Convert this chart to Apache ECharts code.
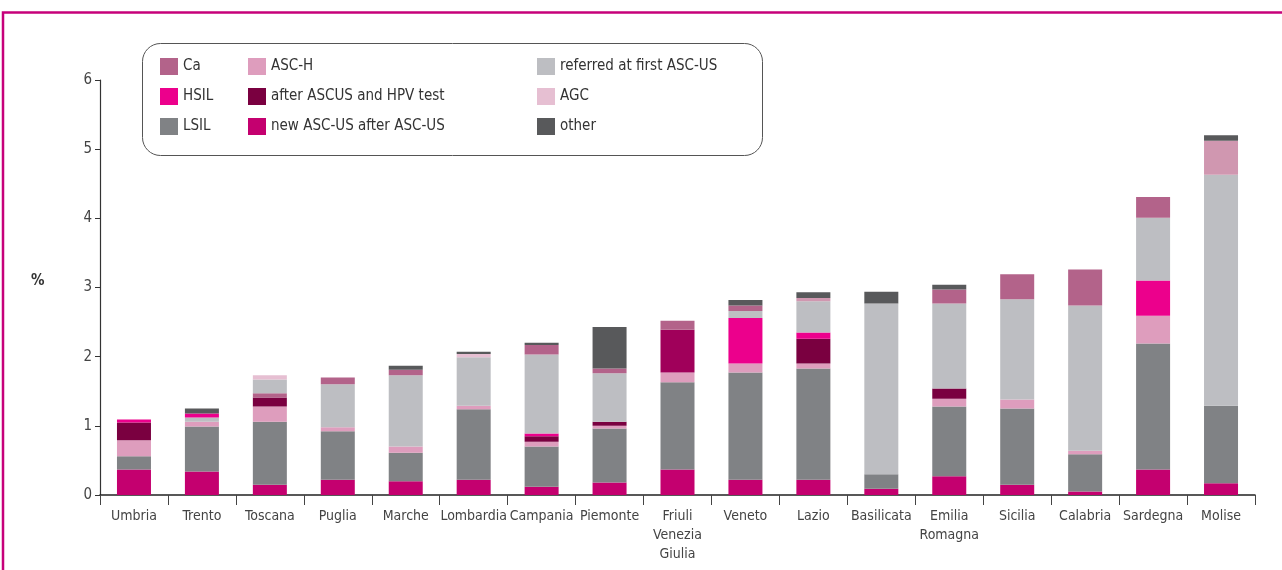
<!DOCTYPE html>
<html>
<head>
<meta charset="utf-8">
<title>ASC-US outcomes by region</title>
<script src="https://cdn.jsdelivr.net/npm/echarts@6/dist/echarts.min.js"></script>
<style>
  html, body { margin: 0; padding: 0; background: #fff; }
  #chart { width: 1282px; height: 570px; }
</style>
</head>
<body>
<div id="chart"></div>
<script>
// regions, left to right
var regions = ['Umbria', 'Trento', 'Toscana', 'Puglia', 'Marche', 'Lombardia', 'Campania', 'Piemonte',
  'Friuli\nVenezia\nGiulia', 'Veneto', 'Lazio', 'Basilicata', 'Emilia\nRomagna', 'Sicilia', 'Calabria', 'Sardegna', 'Molise'];

// % values per outcome (bottom of the stack first)
var newAscus   = [0.37, 0.34, 0.15, 0.22, 0.20, 0.22, 0.12, 0.18, 0.37, 0.22, 0.22, 0.09, 0.27, 0.15, 0.05, 0.37, 0.17];
var lsil       = [0.19, 0.65, 0.91, 0.70, 0.41, 1.02, 0.58, 0.78, 1.26, 1.55, 1.61, 0.21, 1.01, 1.10, 0.54, 1.82, 1.12];
var ascH       = [0.23, 0.07, 0.22, 0.06, 0.09, 0.05, 0.07, 0.04, 0.14, 0.13, 0.07, 0, 0.11, 0.13, 0.05, 0.40, 0];
var afterHpv   = [0.26, 0, 0.13, 0, 0, 0, 0.08, 0.06, 0, 0, 0.36, 0, 0.15, 0, 0, 0, 0];
var afterHpv2  = [0, 0, 0, 0, 0, 0, 0, 0, 0.62, 0, 0, 0, 0, 0, 0, 0, 0];
var hsil       = [0.04, 0, 0, 0, 0, 0, 0.04, 0, 0, 0.66, 0.09, 0, 0, 0, 0, 0.51, 0];
var caLow      = [0, 0, 0.06, 0, 0, 0, 0, 0, 0, 0, 0, 0, 0, 0, 0, 0, 0];
var referred   = [0, 0.06, 0.20, 0.62, 1.03, 0.70, 1.14, 0.70, 0, 0.10, 0.45, 2.47, 1.23, 1.45, 2.10, 0.91, 3.34];
var hsilTop    = [0, 0.06, 0, 0, 0, 0, 0, 0, 0, 0, 0, 0, 0, 0, 0, 0, 0];
var ascHTop    = [0, 0, 0, 0, 0, 0, 0, 0, 0, 0, 0.05, 0, 0, 0, 0, 0, 0.49];
var agc        = [0, 0, 0.06, 0, 0, 0.05, 0, 0, 0, 0, 0, 0, 0, 0, 0, 0, 0];
var ca         = [0, 0, 0, 0.10, 0.08, 0, 0.14, 0.07, 0.13, 0.08, 0, 0, 0.20, 0.36, 0.52, 0.30, 0];
var other      = [0, 0.07, 0, 0, 0.06, 0.03, 0.03, 0.60, 0, 0.08, 0.08, 0.17, 0.07, 0, 0, 0, 0.08];

var yTicks = [0, 1, 2, 3, 4, 5, 6];

var font = '"Liberation Sans Narrow", "DejaVu Sans Condensed", "Open Sans", sans-serif';

function bar(name, data, color) {
  return {
    name: name,
    type: 'bar',
    stack: 'all',
    barWidth: 34,
    data: data,
    itemStyle: { color: color },
    emphasis: { disabled: true }
  };
}

function legendCol(left, names) {
  return {
    orient: 'vertical',
    left: left,
    top: 58,
    padding: 0,
    itemWidth: 18,
    itemHeight: 17,
    itemGap: 13,
    icon: 'rect',
    data: names,
    selectedMode: false,
    textStyle: { fontFamily: font, fontSize: 15, color: '#333' }
  };
}

var chart = echarts.init(document.getElementById('chart'));
chart.setOption({
  animation: false,
  backgroundColor: '#fff',
  grid: { left: 100, right: 27, top: 80, bottom: 75, containLabel: false },
  legend: [
    legendCol(160, ['Ca', 'HSIL', 'LSIL']),
    legendCol(248, ['ASC-H', 'after ASCUS and HPV test', 'new ASC-US after ASC-US']),
    legendCol(537, ['referred at first ASC-US', 'AGC', 'other'])
  ],
  graphic: [
    { type: 'polyline', shape: { points: [[3, 570], [3, 12.5], [1282, 12.5]] },
      style: { stroke: '#C6007A', lineWidth: 2.5, fill: null } },
    { type: 'rect', shape: { x: 142.5, y: 43.5, width: 620, height: 112, r: 18 },
      style: { stroke: '#555', lineWidth: 1, fill: null }, z: -1 },
    { type: 'text', left: 31, top: 274,
      style: { text: '%', fontFamily: font, fontSize: 15, fontWeight: 'bold', fill: '#333' } }
  ],
  xAxis: {
    type: 'category',
    data: regions,
    axisLine: { lineStyle: { color: '#222', width: 1.5 } },
    axisTick: { show: true, interval: 0, length: 10, lineStyle: { color: '#444' } },
    axisLabel: { interval: 0, margin: 12, fontFamily: font, fontSize: 14, color: '#444', lineHeight: 19 }
  },
  yAxis: {
    type: 'value',
    min: 0,
    max: yTicks[yTicks.length - 1],
    interval: 1,
    axisLine: { show: true, lineStyle: { color: '#333', width: 1.2 } },
    axisTick: { show: true, length: 5, lineStyle: { color: '#333' } },
    axisLabel: { margin: 8, fontFamily: font, fontSize: 15, color: '#444' },
    splitLine: { show: false }
  },
  series: [
    bar('new ASC-US after ASC-US', newAscus, '#C4006F'),
    bar('LSIL', lsil, '#808285'),
    bar('ASC-H', ascH, '#DE9DBD'),
    bar('after ASCUS and HPV test', afterHpv, '#7A0040'),
    bar('after ASCUS and HPV test', afterHpv2, '#A0005A'),
    bar('HSIL', hsil, '#EC008C'),
    bar('Ca', caLow, '#B3638A'),
    bar('referred at first ASC-US', referred, '#BDBEC2'),
    bar('HSIL', hsilTop, '#EC008C'),
    bar('ASC-H', ascHTop, '#D097B0'),
    bar('AGC', agc, '#E6BFD2'),
    bar('Ca', ca, '#B3638A'),
    bar('other', other, '#58595B')
  ]
});
</script>
</body>
</html>
